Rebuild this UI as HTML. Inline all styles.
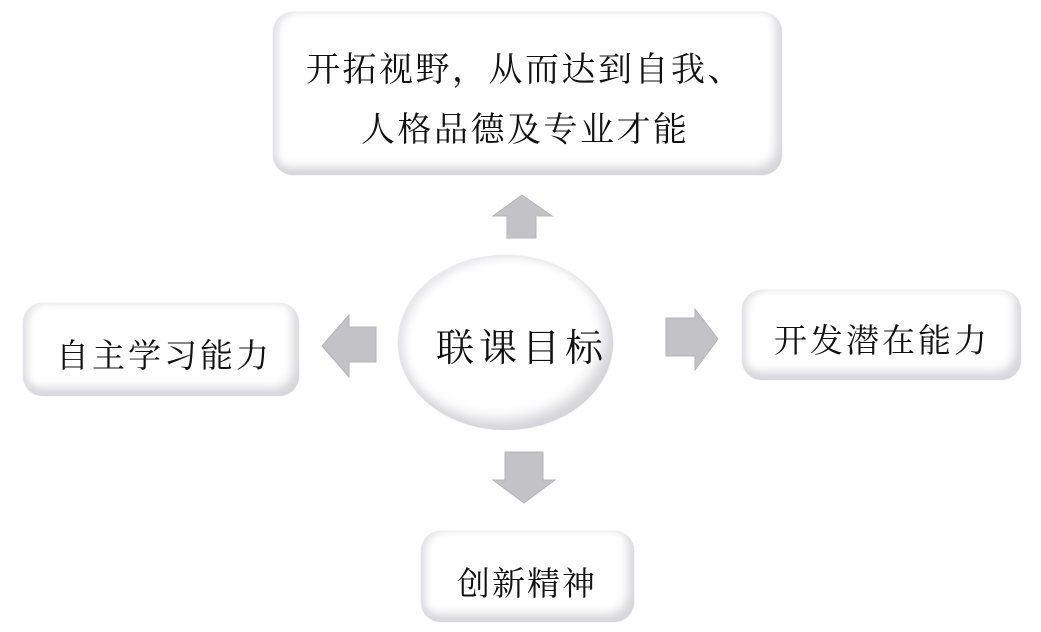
<!DOCTYPE html>
<html><head><meta charset="utf-8"><style>
html,body{margin:0;padding:0;background:#fff;width:1041px;height:632px;overflow:hidden}
.b{position:absolute;background:#fff;border-radius:20px;box-shadow:inset -6px -8px 10px #d6d6da,inset 5px 0 8px #e2e2e6,0 0 1px #c8c8cc;
font-family:"Liberation Serif","Noto Serif CJK SC",serif;color:#111;text-align:center;}
.t{position:absolute;font-family:"Liberation Serif","Noto Serif CJK SC",serif;color:#111;white-space:nowrap}
</style></head><body>
<div class="b" style="left:273px;top:12px;width:509px;height:163px"></div>
<div class="t" style="left:306px;top:42px;font-size:34px;letter-spacing:2.5px">开拓视野，从而达到自我、</div>
<div class="t" style="left:361px;top:102px;font-size:34px;letter-spacing:2.5px">人格品德及专业才能</div>

<div class="b" style="left:23px;top:303px;width:276px;height:93px"></div>
<div class="t" style="left:56px;top:330px;font-size:33px;letter-spacing:3px">自主学习能力</div>

<div class="b" style="left:742px;top:290px;width:279px;height:90px"></div>
<div class="t" style="left:774px;top:315px;font-size:33px;letter-spacing:3px">开发潜在能力</div>

<div class="b" style="left:421px;top:531px;width:213px;height:91px"></div>
<div class="t" style="left:457px;top:558px;font-size:33px;letter-spacing:2px">创新精神</div>

<div style="position:absolute;left:398px;top:255px;width:215px;height:175px;border-radius:50%;background:#fff;box-shadow:inset -8px -10px 14px #d4d4d8,inset 6px 2px 10px #e4e4e8,0 0 1px #ccc"></div>
<div class="t" style="left:436px;top:317px;font-size:38px;letter-spacing:5px">联课目标</div>

<svg width="1041" height="632" style="position:absolute;left:0;top:0">
<g fill="#c3c3c7" stroke="#b4b4b8" stroke-width="1">
<polygon points="522,195 552,216 536,216 536,238 507,238 507,216 493,216"/>
<polygon points="322,346 349,315 349,327 376,327 376,362 349,362 349,377"/>
<polygon points="718,339 695,309 695,318 666,318 666,356 695,356 695,370"/>
<polygon points="524,503 555,480 543,480 543,452 505,452 505,480 493,480"/>
</g>
</svg>
</body></html>
